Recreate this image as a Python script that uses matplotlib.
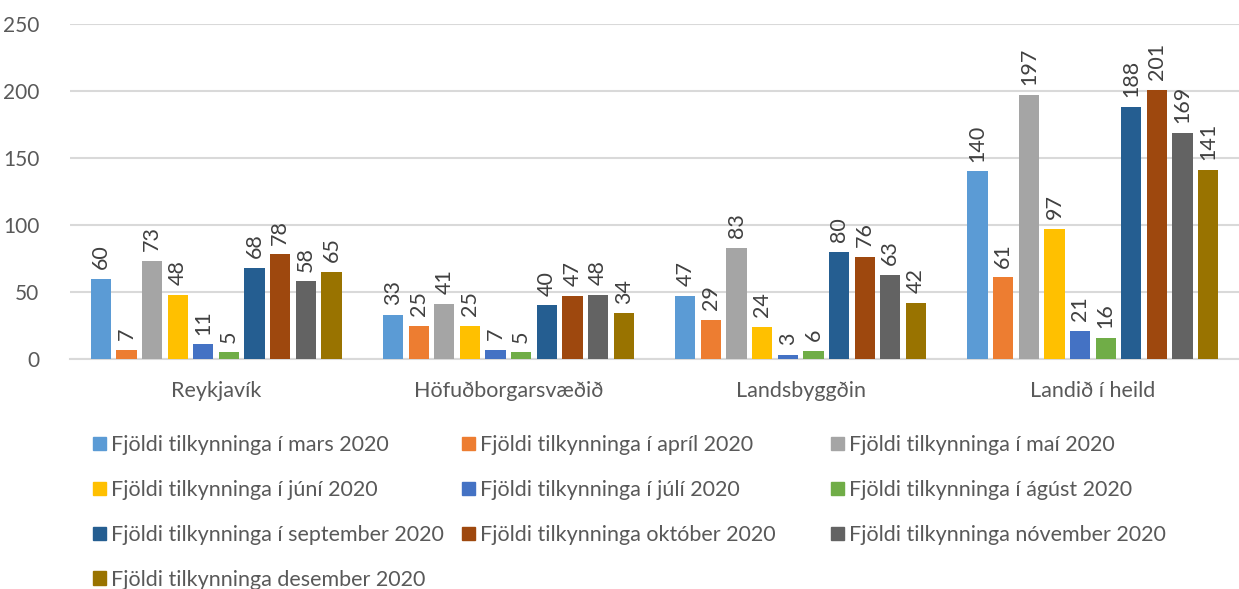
import numpy as np
import matplotlib.pyplot as plt
from matplotlib.patches import Patch

plt.rcParams['font.family'] = ['Lato', 'DejaVu Sans']

categories = ['Reykjavík', 'Höfuðborgarsvæðið', 'Landsbyggðin', 'Landið í heild']
series_names = [
    'Fjöldi tilkynninga í mars 2020',
    'Fjöldi tilkynninga í apríl 2020',
    'Fjöldi tilkynninga í maí 2020',
    'Fjöldi tilkynninga í júní 2020',
    'Fjöldi tilkynninga í júlí 2020',
    'Fjöldi tilkynninga í ágúst 2020',
    'Fjöldi tilkynninga í september 2020',
    'Fjöldi tilkynninga október 2020',
    'Fjöldi tilkynninga nóvember 2020',
    'Fjöldi tilkynninga desember 2020',
]
mars = [60, 33, 47, 140]
april = [7, 25, 29, 61]
mai = [73, 41, 83, 197]
juni = [48, 25, 24, 97]
juli = [11, 7, 3, 21]
agust = [5, 5, 6, 16]
september = [68, 40, 80, 188]
oktober = [78, 47, 76, 201]
november = [58, 48, 63, 169]
desember = [65, 34, 42, 141]
values = [mars, april, mai, juni, juli, agust, september, oktober, november, desember]

colors = ['#5B9BD5', '#ED7D31', '#A5A5A5', '#FFC000', '#4472C4',
          '#70AD47', '#255E91', '#9E480E', '#636363', '#997300']

txt = '#595959'

fig = plt.figure(figsize=(12.39, 5.89), dpi=100)
ax = fig.add_axes([70 / 1239, 1 - 359 / 589, 1 - 70 / 1239, (359 - 24) / 589])

x = np.arange(len(categories))
slot = 0.0877
bw = slot * 0.79
for i, (vals, c) in enumerate(zip(values, colors)):
    pos = x + (i - 4.5) * slot
    bars = ax.bar(pos, vals, width=bw, color=c, zorder=3)
    for b, v in zip(bars, vals):
        ax.annotate(str(v), (b.get_x() + b.get_width() / 2, v),
                    xytext=(0, 7), textcoords='offset points',
                    rotation=90, ha='center', va='bottom',
                    fontsize=15.5, color='#404040')

ax.set_xlim(-0.5, 3.5)
ax.set_ylim(0, 250)
ax.set_yticks([0, 50, 100, 150, 200, 250])
ax.yaxis.grid(True, color='#D9D9D9', lw=1.5, zorder=0)
ax.set_axisbelow(True)
for s in ['top', 'right', 'left']:
    ax.spines[s].set_visible(False)
ax.spines['bottom'].set_color('#D9D9D9')
ax.spines['bottom'].set_linewidth(1.5)
ax.set_xticks(x)
ax.set_xticklabels(categories)
ax.tick_params(axis='both', length=0, labelsize=15.5, colors=txt)
ax.tick_params(axis='y', labelsize=15)
ax.tick_params(axis='x', pad=16)
ax.tick_params(axis='y', pad=22)

# legend: three columns, row-wise order
col_x = [93, 462, 831]
for c in range(3):
    idx = list(range(c, len(series_names), 3))
    handles = [Patch(color=colors[i]) for i in idx]
    labels = [series_names[i] for i in idx]
    fig.legend(handles, labels, loc='upper left',
               bbox_to_anchor=(col_x[c] / 1239, 1 - 435 / 589),
               frameon=False, fontsize=15.5, labelcolor=txt,
               handlelength=0.6, handleheight=0.6, handletextpad=0.25,
               labelspacing=1.16, borderaxespad=0, borderpad=0)

fig.savefig('out.png', dpi=100)
